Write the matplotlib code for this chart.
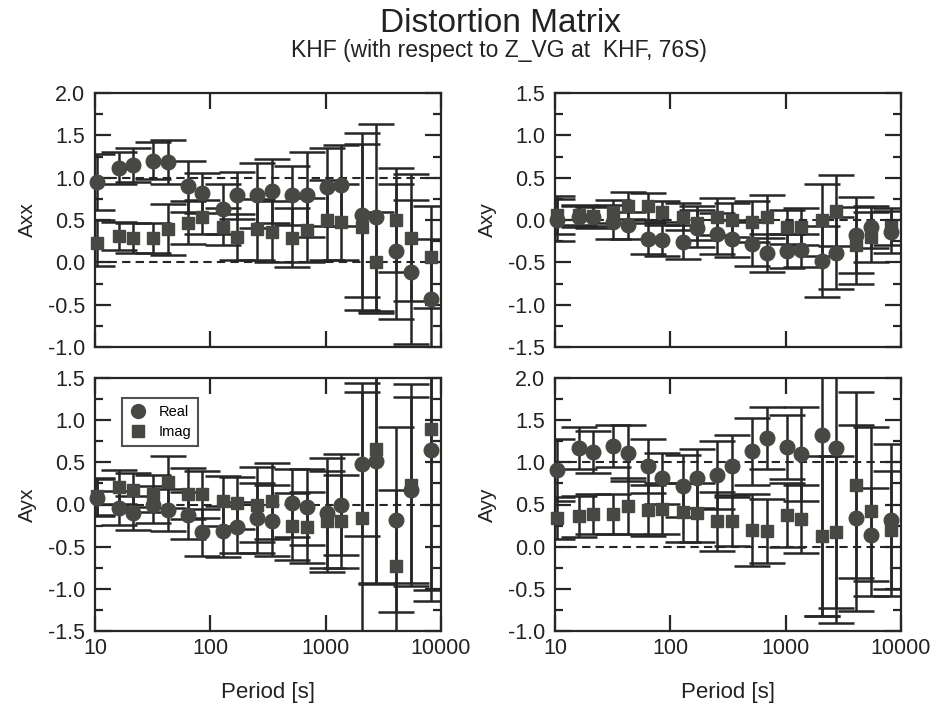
import matplotlib
matplotlib.use("Agg")
import matplotlib.pyplot as plt
from matplotlib.ticker import MultipleLocator, FixedLocator, NullLocator, FixedFormatter, FormatStrFormatter
from matplotlib.lines import Line2D

plt.rcParams['font.family'] = ['Liberation Sans', 'DejaVu Sans']
plt.rcParams['axes.unicode_minus'] = True

# ---------------- data ----------------
periods = [10.4, 16, 21.3, 32, 42.7, 64, 85.3, 128, 171, 256,
           341, 512, 683, 1024, 1365, 2048, 2731, 4096, 5461, 8192]

axx_real = [0.95, 1.11, 1.15, 1.20, 1.18, 0.90, 0.82, 0.63, 0.79, 0.79,
            0.84, 0.79, 0.80, 0.89, 0.91, 0.56, 0.53, 0.13, -0.11, -0.43]
axx_real_err = [0.33, 0.19, 0.20, 0.22, 0.26, 0.30, 0.24, 0.30, 0.28, 0.38,
                0.38, 0.35, 0.50, 0.46, 0.48, 0.97, 1.10, 0.80, 0.85, 0.70]
axx_imag = [0.23, 0.31, 0.29, 0.29, 0.39, 0.47, 0.54, 0.42, 0.30, 0.39,
            0.36, 0.29, 0.38, 0.50, 0.48, 0.42, 0.00, 0.50, 0.29, 0.06]
axx_imag_err = [0.27, 0.17, 0.18, 0.18, 0.30, 0.25, 0.20, 0.22, 0.27, 0.36,
                0.36, 0.35, 0.38, 0.47, 0.45, 0.98, 0.60, 0.62, 0.75, 0.60]

axy_real = [0.00, 0.04, 0.03, -0.02, -0.06, -0.22, -0.24, -0.26, -0.10, -0.16,
            -0.22, -0.28, -0.39, -0.37, -0.36, -0.49, -0.39, -0.18, -0.08, -0.14]
axy_real_err = [0.25, 0.12, 0.12, 0.20, 0.16, 0.18, 0.18, 0.20, 0.22, 0.24,
                0.22, 0.26, 0.22, 0.20, 0.20, 0.42, 0.42, 0.45, 0.25, 0.25]
axy_imag = [0.06, 0.06, 0.05, 0.10, 0.17, 0.16, 0.10, 0.04, -0.04, 0.04,
            0.00, -0.02, 0.04, -0.08, -0.08, 0.00, 0.11, -0.30, -0.20, -0.08]
axy_imag_err = [0.22, 0.12, 0.12, 0.14, 0.16, 0.16, 0.12, 0.16, 0.20, 0.22,
                0.20, 0.24, 0.25, 0.20, 0.22, 0.43, 0.42, 0.45, 0.30, 0.22]

ayx_real = [0.08, -0.04, -0.10, 0.00, -0.07, -0.13, -0.33, -0.32, -0.27, -0.16,
            -0.19, 0.02, -0.03, -0.10, 0.00, 0.48, 0.52, -0.18, 0.17, 0.65]
ayx_real_err = [0.22, 0.20, 0.20, 0.22, 0.25, 0.28, 0.28, 0.30, 0.30, 0.42,
                0.42, 0.40, 0.45, 0.65, 0.60, 0.85, 1.45, 1.10, 1.10, 1.80]
ayx_imag = [0.10, 0.21, 0.17, 0.13, 0.27, 0.13, 0.12, 0.04, 0.02, 0.00,
            0.04, -0.26, -0.27, -0.20, -0.20, -0.16, 0.66, -0.73, 0.23, 0.89]
ayx_imag_err = [0.22, 0.20, 0.20, 0.22, 0.31, 0.30, 0.28, 0.30, 0.31, 0.45,
                0.45, 0.40, 0.42, 0.60, 0.55, 1.60, 1.60, 0.90, 1.20, 1.90]

ayy_real = [0.91, 1.17, 1.12, 1.19, 1.11, 0.96, 0.81, 0.72, 0.81, 0.85,
            0.96, 1.13, 1.29, 1.18, 1.10, 1.33, 1.17, 0.34, 0.14, 0.32]
ayy_real_err = [0.37, 0.25, 0.25, 0.25, 0.33, 0.32, 0.30, 0.37, 0.35, 0.40,
                0.37, 0.40, 0.37, 0.38, 0.56, 2.15, 2.07, 1.10, 0.55, 0.90]
ayy_imag = [0.34, 0.36, 0.39, 0.39, 0.48, 0.43, 0.45, 0.41, 0.40, 0.30,
            0.31, 0.20, 0.19, 0.38, 0.33, 0.13, 0.17, 0.73, 0.42, 0.20]
ayy_imag_err = [0.25, 0.24, 0.24, 0.24, 0.33, 0.30, 0.30, 0.35, 0.35, 0.35,
                0.30, 0.43, 0.38, 0.38, 0.40, 0.95, 0.90, 1.10, 1.00, 0.70]

x_ticks = [10, 100, 1000, 10000]
x_tick_labels = ["10", "100", "1000", "10000"]

title = "Distortion Matrix"
subtitle = "KHF (with respect to Z_VG at  KHF, 76S)"

# ---------------- styling ----------------
MK = '#474744'
LN = '#262626'
TX = '#222222'

fig = plt.figure(figsize=(9.4, 7.07), dpi=100)

W, H = 940.0, 707.0
def rect(l, t, r, b):
    return [l / W, 1 - b / H, (r - l) / W, (b - t) / H]

panels = [
    dict(rect=rect(95, 93, 441, 347), label='Axx', real=axx_real, rerr=axx_real_err,
         imag=axx_imag, ierr=axx_imag_err, ylim=(-1.0, 2.0), dashed=[0.0, 1.0], bottom=False),
    dict(rect=rect(555, 93, 901, 347), label='Axy', real=axy_real, rerr=axy_real_err,
         imag=axy_imag, ierr=axy_imag_err, ylim=(-1.5, 1.5), dashed=[0.0], bottom=False),
    dict(rect=rect(95, 378, 441, 631), label='Ayx', real=ayx_real, rerr=ayx_real_err,
         imag=ayx_imag, ierr=ayx_imag_err, ylim=(-1.5, 1.5), dashed=[0.0], bottom=True),
    dict(rect=rect(555, 378, 901, 631), label='Ayy', real=ayy_real, rerr=ayy_real_err,
         imag=ayy_imag, ierr=ayy_imag_err, ylim=(-1.0, 2.0), dashed=[0.0, 1.0], bottom=True),
]

axes = []
for p in panels:
    ax = fig.add_axes(p['rect'])
    axes.append(ax)
    ax.set_xscale('log')
    for yv in p['dashed']:
        ax.axhline(yv, color=LN, lw=1.5, ls=(0, (4, 2.5)), zorder=1)
    ax.errorbar(periods, p['imag'], yerr=p['ierr'], fmt='none', ecolor=LN,
                elinewidth=1.8, capsize=13, capthick=1.8, zorder=2)
    ax.errorbar(periods, p['real'], yerr=p['rerr'], fmt='none', ecolor=LN,
                elinewidth=1.8, capsize=13, capthick=1.8, zorder=2)
    ax.plot(periods, p['real'], 'o', ms=10.5, color=MK, mec=MK, ls='none',
            zorder=5, clip_on=False)
    ax.plot(periods, p['imag'], 's', ms=8.5, color=MK, mec=MK, ls='none',
            zorder=5, clip_on=False)
    ax.set_xlim(10, 10000)
    ax.set_ylim(*p['ylim'])
    ax.xaxis.set_major_locator(FixedLocator(x_ticks))
    ax.xaxis.set_major_formatter(FixedFormatter(x_tick_labels))
    ax.xaxis.set_minor_locator(NullLocator())
    ax.yaxis.set_major_locator(MultipleLocator(0.5))
    ax.yaxis.set_minor_locator(MultipleLocator(0.25))
    ax.yaxis.set_major_formatter(FormatStrFormatter('%.1f'))
    ax.tick_params(which='both', direction='in', top=True, right=True,
                   width=1.6, color=LN, labelcolor=TX, labelsize=15.5)
    ax.tick_params(which='major', length=11.5)
    ax.tick_params(which='minor', length=5.8)
    ax.tick_params(axis='y', pad=7)
    ax.tick_params(axis='x', pad=5, labelbottom=p['bottom'])
    for s in ax.spines.values():
        s.set_linewidth(1.6)
        s.set_color(LN)
    ax.set_ylabel(p['label'], fontsize=15, color=TX)
    ax.yaxis.set_label_coords(-0.168, 0.5)
    if p['bottom']:
        ax.set_xlabel('Period [s]', fontsize=16, color=TX)
        ax.xaxis.set_label_coords(0.5, -0.2)

# legend in lower-left panel
handles = [Line2D([], [], marker='o', ls='none', ms=10, color=MK),
           Line2D([], [], marker='s', ls='none', ms=8.5, color=MK)]
leg = axes[2].legend(handles, ['Real', 'Imag'], loc='upper left',
                     bbox_to_anchor=(0.078, 0.921), borderaxespad=0,
                     fontsize=10.5, frameon=True, fancybox=False,
                     handlelength=1.2, handletextpad=0.8, borderpad=0.5,
                     labelspacing=0.4)
leg.get_frame().set_edgecolor(LN)
leg.get_frame().set_linewidth(1.5)
leg.set_zorder(10)

fig.text(0.532, 1 - 32 / H, title, ha='center', va='baseline', fontsize=24, color=TX)
fig.text(0.531, 1 - 57 / H, subtitle, ha='center', va='baseline', fontsize=16.5, color=TX)

fig.savefig('out.png', dpi=100, facecolor='white')
